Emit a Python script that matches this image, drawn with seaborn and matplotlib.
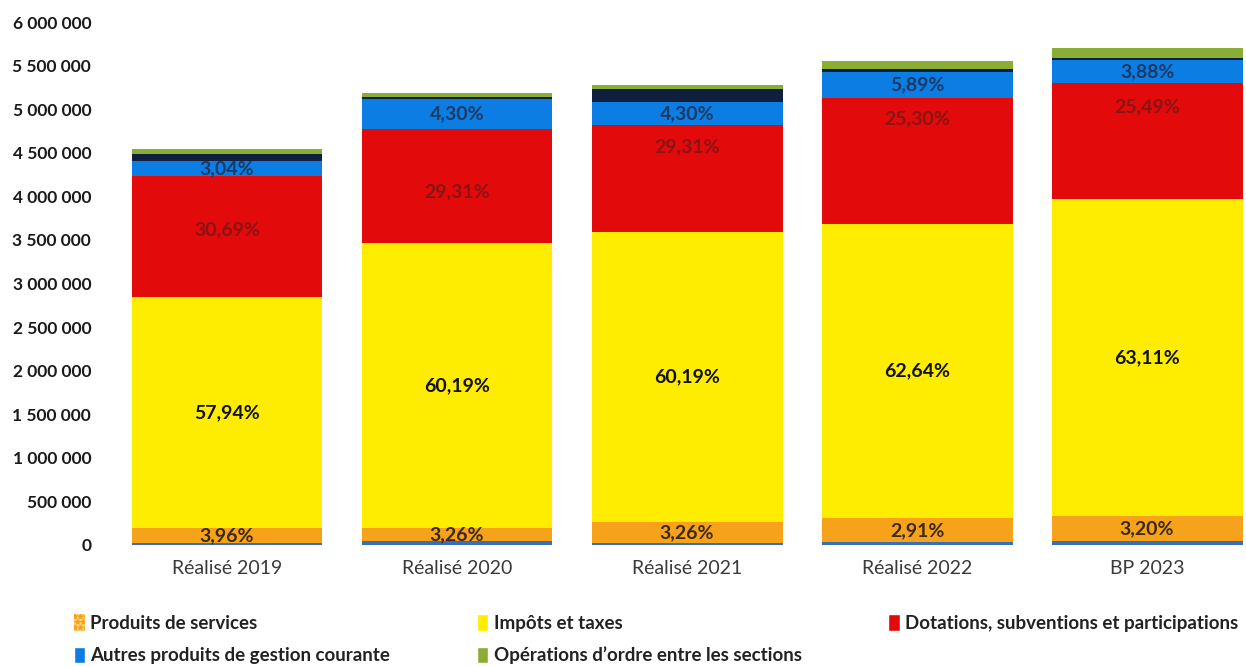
import numpy as np
import pandas as pd
import seaborn as sns
import matplotlib.pyplot as plt
from matplotlib.patches import Patch
from matplotlib.ticker import FuncFormatter

# Données (en euros), de bas en haut de chaque barre
annees = ["Réalisé 2019", "Réalisé 2020", "Réalisé 2021", "Réalisé 2022", "BP 2023"]

attenuations = [20000, 50000, 20000, 30000, 40000]
produits_services = [170000, 140000, 240000, 275000, 290000]
impots_taxes = [2650000, 3280000, 3330000, 3380000, 3635000]
dotations = [1390000, 1300000, 1230000, 1445000, 1330000]
autres_produits = [170000, 344000, 260000, 300000, 264000]
produits_financiers = [90000, 23000, 150000, 34000, 23000]
operations_ordre = [57000, 46000, 46000, 92000, 115000]

pct_services = ["3,96%", "3,26%", "3,26%", "2,91%", "3,20%"]
pct_impots = ["57,94%", "60,19%", "60,19%", "62,64%", "63,11%"]
pct_dotations = ["30,69%", "29,31%", "29,31%", "25,30%", "25,49%"]
pct_autres = ["3,04%", "4,30%", "4,30%", "5,89%", "3,88%"]

series = [
    ("Atténuations de charges", attenuations, "#3A6FB5"),
    ("Produits de services", produits_services, "#F7A21B"),
    ("Impôts et taxes", impots_taxes, "#FFED00"),
    ("Dotations, subventions et participations", dotations, "#E20A0A"),
    ("Autres produits de gestion courante", autres_produits, "#0B7DE3"),
    ("Produits financiers", produits_financiers, "#0F1F3D"),
    ("Opérations d’ordre entre les sections", operations_ordre, "#8AAE35"),
]

df = pd.DataFrame({nom: vals for nom, vals, _ in series}, index=annees)
cumul = df.cumsum(axis=1)

sns.set_style("white")
plt.rcParams["font.family"] = ["Lato", "DejaVu Sans"]

fig = plt.figure(figsize=(12.46, 6.67), dpi=100)
ax = fig.add_axes([112 / 1246, 0.183, (1246 - 112) / 1246, 0.784])

# barres empilées : on dessine les cumuls du plus haut au plus bas
for nom, _, couleur in reversed(series):
    sns.barplot(x=annees, y=cumul[nom].values, color=couleur, saturation=1,
                width=0.83, linewidth=0, ax=ax)

# étiquettes de pourcentage
bas = cumul.shift(1, axis=1).fillna(0)
red_label_frac = [0.44, 0.55, 0.2, 0.17, 0.2]
for i in range(len(annees)):
    y_serv = (bas.iloc[i]["Produits de services"] + cumul.iloc[i]["Produits de services"]) / 2
    ax.text(i, y_serv, pct_services[i], ha="center", va="center", fontsize=14,
            fontweight="bold", color="#3B2A12")
    y_imp = (bas.iloc[i]["Impôts et taxes"] + cumul.iloc[i]["Impôts et taxes"]) / 2
    ax.text(i, y_imp, pct_impots[i], ha="center", va="center", fontsize=14,
            fontweight="bold", color="#111111")
    haut = cumul.iloc[i]["Dotations, subventions et participations"]
    y_dot = haut - red_label_frac[i] * dotations[i]
    ax.text(i, y_dot, pct_dotations[i], ha="center", va="center", fontsize=14,
            fontweight="bold", color="#8A1414")
    y_aut = (bas.iloc[i]["Autres produits de gestion courante"]
             + cumul.iloc[i]["Autres produits de gestion courante"]) / 2
    ax.text(i, y_aut, pct_autres[i], ha="center", va="center", fontsize=14,
            fontweight="bold", color="#1B3A66")

ax.set_xlim(-0.5, 4.43)
ax.set_ylim(0, 6_000_000)
ax.set_yticks(np.arange(0, 6_000_001, 500_000))
ax.yaxis.set_major_formatter(FuncFormatter(lambda v, p: f"{int(v):,}".replace(",", " ")))
ax.tick_params(axis="y", length=0, pad=15, labelsize=12.5, labelcolor="#1A1A1A")
ax.tick_params(axis="x", length=0, pad=11, labelsize=14, labelcolor="#3A3A3A")
for lab in ax.get_yticklabels():
    lab.set_fontweight("bold")
ax.set_xlabel("")
ax.set_ylabel("")
sns.despine(ax=ax, left=True, bottom=True)

# légende
handles = [
    Patch(facecolor="#FFD37A", edgecolor="#F7A21B", hatch="***", linewidth=0),
    Patch(facecolor="#0B7DE3"),
    Patch(facecolor="#FFED00"),
    Patch(facecolor="#8AAE35"),
    Patch(facecolor="#E20A0A"),
]
labels = [
    "Produits de services",
    "Autres produits de gestion courante",
    "Impôts et taxes",
    "Opérations d’ordre entre les sections",
    "Dotations, subventions et participations",
]
leg = fig.legend(handles, labels, ncol=3, loc="upper left",
                 bbox_to_anchor=(66 / 1246, 1 - 613 / 667, 1 - 66 / 1246, 0.01),
                 mode="expand", frameon=False, handlelength=0.6, handleheight=1.0,
                 handletextpad=0.3, labelspacing=0.8, borderaxespad=0,
                 prop={"family": "Lato", "weight": "bold", "size": 13.5})
for t in leg.get_texts():
    t.set_color("#222222")

fig.savefig("out.png", dpi=100)
